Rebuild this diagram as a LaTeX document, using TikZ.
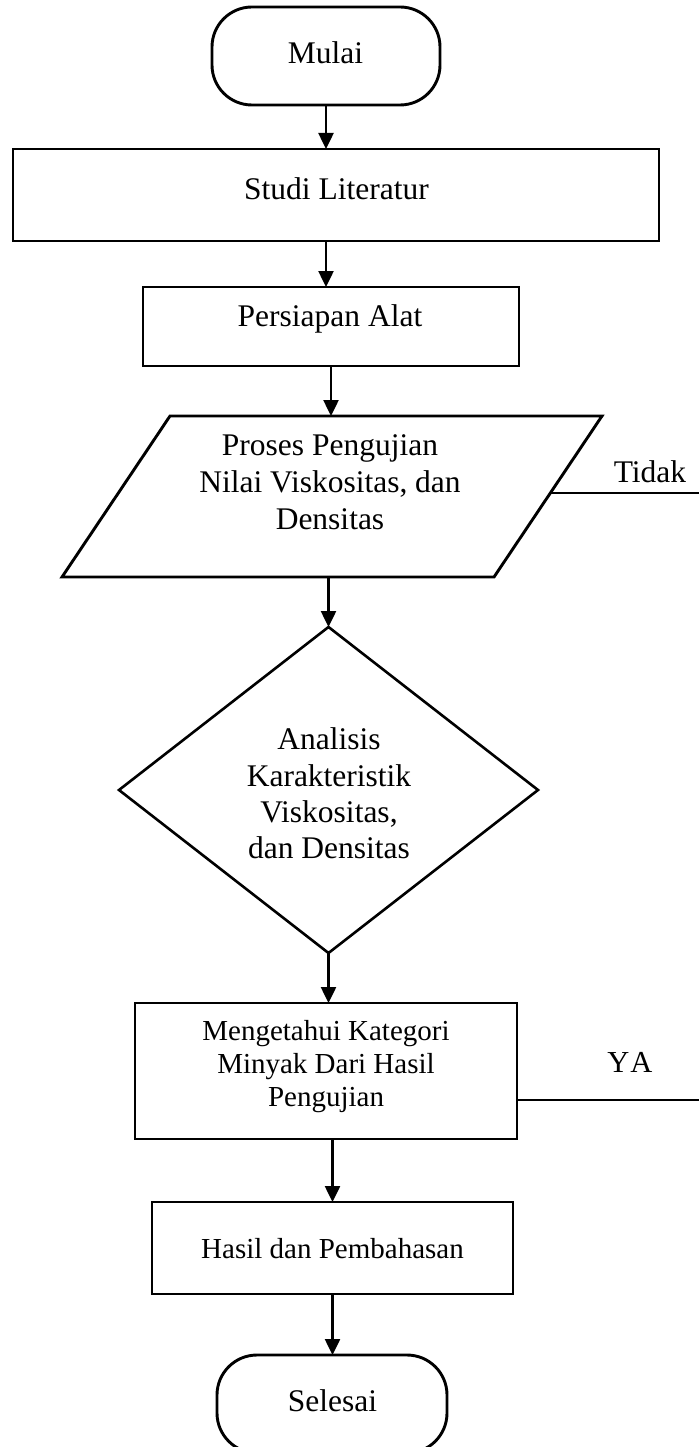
\documentclass[tikz,border=0pt]{standalone}
\usepackage{fontspec}
\setmainfont{Liberation Serif}
\usetikzlibrary{shapes.geometric,arrows.meta,calc}
\begin{document}
\begin{tikzpicture}[x=1pt,y=-1pt,
  shp/.style={draw=black,line width=2.9pt,inner sep=0pt,outer sep=0pt},
  procbox/.style={shp,rectangle},
  termbox/.style={shp,rectangle,rounded corners=40pt},
  txt/.style={inner sep=0pt,align=center,font=\fontsize{31.5}{36.5}\selectfont},
  smalltxt/.style={inner sep=0pt,align=center,font=\fontsize{29}{33}\selectfont},
  arr/.style={line width=2.5pt,-{Triangle[length=16pt,width=15pt]}},
  plain/.style={line width=2.5pt}]
\useasboundingbox (0,0) rectangle (699,1447);
% shapes
\node[termbox,minimum width=228pt,minimum height=98pt] (mulai) at (326,56) {};
\node[procbox,minimum width=646pt,minimum height=92pt] (studi) at (336,195) {};
\node[procbox,minimum width=376pt,minimum height=79pt] (persiapan) at (331,326.5) {};
\node[inner sep=0pt,outer sep=0pt,minimum width=540pt,minimum height=161pt] (para) at (332,496.5) {};
\draw[line width=2.9pt,line join=miter] ($(para.north west)+(108,0)$) -- (para.north east)
   -- ($(para.south east)+(-108,0)$) -- (para.south west) -- cycle;
\coordinate (paraeast) at (550.3,493);
\node[shp,diamond,line width=2.6pt,minimum width=419pt,minimum height=326pt] (dia) at (328.5,790) {};
\node[procbox,minimum width=382pt,minimum height=136pt] (meng) at (326,1071) {};
\node[procbox,minimum width=361pt,minimum height=92pt] (hasil) at (332.5,1248) {};
\node[termbox,minimum width=230pt,minimum height=98pt] (selesai) at (332,1404) {};
% texts
\node[txt] (mulait) at (325.5,53) {Mulai};
\node[txt] (studit) at (336.5,188.5) {Studi Literatur};
\node[txt] (persiapant) at (330,318.5) {Persiapan Alat};
\node[txt,font=\fontsize{31.5}{37}\selectfont] (parat) at (330,482.5) {Proses Pengujian\\Nilai Viskositas, dan\\Densitas};
\node[txt,font=\fontsize{31.5}{36.3}\selectfont] (diat) at (329,793.5) {Analisis\\Karakteristik\\Viskositas,\\dan Densitas};
\node[smalltxt] (mengt) at (326,1067) {Mengetahui Kategori\\Minyak Dari Hasil\\Pengujian};
\node[smalltxt] (hasilt) at (332.5,1249) {Hasil dan Pembahasan};
\node[txt] (selesait) at (332.5,1401) {Selesai};
\node[txt] (tidak) at (650,472) {Tidak};
\node[txt,font=\fontsize{30.5}{36}\selectfont] (ya) at (630,1062.5) {Y\kern1ptA};
% connectors
\coordinate (tidakend) at (699,493);
\coordinate (yaend) at (699,1100);
\draw[arr] (mulai.south) -- (mulai.south |- studi.north);
\draw[arr] (studi.south -| mulai.south) -- (persiapan.north -| mulai.south);
\draw[arr] (persiapan.south) -- (persiapan.south |- para.north);
\draw[arr] (para.south -| dia.north) -- (dia.north);
\draw[arr] (dia.south) -- (dia.south |- meng.north);
\draw[arr] (meng.south -| hasil.north) -- (hasil.north);
\draw[arr] (hasil.south) -- (hasil.south |- selesai.north);
\draw[plain] (paraeast) -- (tidakend);
\draw[plain,line width=2pt] (meng.east |- yaend) -- (yaend);
\end{tikzpicture}
\end{document}
